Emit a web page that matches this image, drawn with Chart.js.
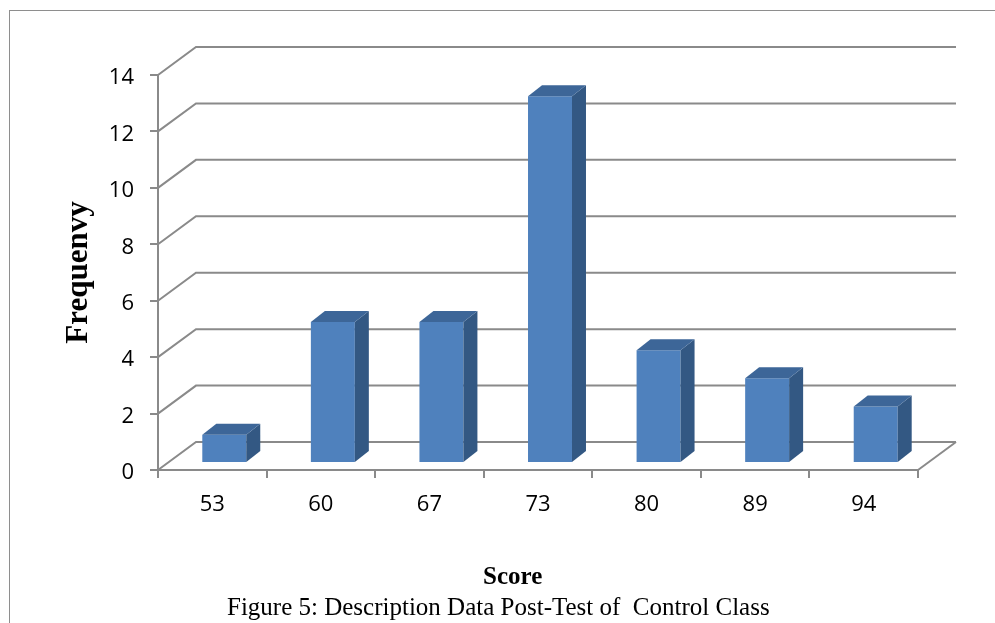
<!DOCTYPE html>
<html>
<head>
<meta charset="utf-8">
<title>Post-Test Score Frequency</title>
<script src="https://cdn.jsdelivr.net/npm/chart.js@4.4.1/dist/chart.umd.min.js"></script>
<style>
  html, body { margin: 0; padding: 0; background: #fff; overflow: hidden; }
  #wrap { position: relative; width: 995px; height: 623px; overflow: hidden; }
  #frame { position: absolute; left: 9px; top: 10px; width: 1200px; height: 900px;
           border: 1px solid #8e8e8e; box-sizing: border-box; }
  #chart { position: absolute; left: 0; top: 0; }
  .txt { position: absolute; font-family: "Liberation Serif", "Times New Roman", serif;
         font-size: 25px; line-height: 25px; color: #000; white-space: pre; }
</style>
</head>
<body>
<div id="wrap">
  <div id="frame"></div>
  <canvas id="chart" width="995" height="623"></canvas>
  <div class="txt" id="xTitle" style="left:483px; top:563px; font-weight:bold;"></div>
  <div class="txt" id="caption" style="left:227px; top:594px;"></div>
</div>
<script>
// Score categories and how many students got each one
const scores = ['53', '60', '67', '73', '80', '89', '94'];
const frequency = [1, 5, 5, 13, 4, 3, 2];

// Frequency axis range and step
const yMin = 0;
const yMax = 14;
const yStep = 2;

// Axis titles and caption
const yAxisTitle = 'Frequenvy';
const xAxisTitle = 'Score';
const captionText = 'Figure 5: Description Data Post-Test of  Control Class';

document.getElementById('xTitle').textContent = xAxisTitle;
document.getElementById('caption').textContent = captionText;

// Pseudo-3D look: back wall offset, bar placement inside the depth, bar thickness
const WALL = { dx: 38, dy: -28 };
const BAR_SHIFT = { dx: 12, dy: -7 };
const BAR_DEPTH = { dx: 14, dy: -11 };
const GRID = '#8a8a8a';
const FRONT = '#4f81bd';
const SIDE = '#335883';
const TOP = '#3d6698';

Chart.defaults.font.family = '"Open Sans"';

const box3d = {
  id: 'box3d',
  // back wall gridlines with their slanted left-wall segments, plus the floor edge
  beforeDatasetsDraw(chart) {
    const { ctx, chartArea: a, scales: { y } } = chart;
    ctx.save();
    ctx.strokeStyle = GRID;
    ctx.lineWidth = 2;
    y.ticks.forEach(t => {
      const py = y.getPixelForValue(t.value);
      ctx.beginPath();
      ctx.moveTo(a.left, py);
      ctx.lineTo(a.left + WALL.dx, py + WALL.dy);
      ctx.lineTo(a.right + WALL.dx, py + WALL.dy);
      ctx.stroke();
    });
    const p0 = y.getPixelForValue(yMin);
    ctx.beginPath();
    ctx.moveTo(a.right, p0);
    ctx.lineTo(a.right + WALL.dx, p0 + WALL.dy);
    ctx.stroke();
    ctx.restore();
  },
  // bars stand inside the floor depth, so shift their front face back
  beforeDatasetDraw(chart) {
    chart.ctx.save();
    chart.ctx.translate(BAR_SHIFT.dx, BAR_SHIFT.dy);
  },
  // side and top faces of each bar
  afterDatasetDraw(chart, args) {
    const ctx = chart.ctx;
    args.meta.data.forEach(bar => {
      const { x, y, base, width } = bar.getProps(['x', 'y', 'base', 'width'], true);
      const l = x - width / 2;
      const r = x + width / 2;
      ctx.fillStyle = SIDE;
      ctx.beginPath();
      ctx.moveTo(r, y);
      ctx.lineTo(r + BAR_DEPTH.dx, y + BAR_DEPTH.dy);
      ctx.lineTo(r + BAR_DEPTH.dx, base + BAR_DEPTH.dy);
      ctx.lineTo(r, base);
      ctx.closePath();
      ctx.fill();
      ctx.fillStyle = TOP;
      ctx.beginPath();
      ctx.moveTo(l, y);
      ctx.lineTo(l + BAR_DEPTH.dx, y + BAR_DEPTH.dy);
      ctx.lineTo(r + BAR_DEPTH.dx, y + BAR_DEPTH.dy);
      ctx.lineTo(r, y);
      ctx.closePath();
      ctx.fill();
    });
    ctx.restore();
  }
};

new Chart(document.getElementById('chart'), {
  type: 'bar',
  data: {
    labels: scores,
    datasets: [{
      data: frequency,
      backgroundColor: FRONT,
      borderWidth: 0,
      barPercentage: 0.405,
      categoryPercentage: 1,
      clip: false
    }]
  },
  options: {
    responsive: false,
    animation: false,
    layout: { padding: { left: 60, right: 77, top: 75, bottom: 0 } },
    plugins: { legend: { display: false }, tooltip: { enabled: false } },
    scales: {
      x: {
        grid: { drawOnChartArea: false, drawTicks: true, tickLength: 8, color: GRID, lineWidth: 2, offset: true },
        border: { display: true, color: GRID, width: 2 },
        ticks: { font: { size: 22 }, color: '#000', padding: 14 },
        afterFit(s) { s.height = 153; }
      },
      y: {
        min: yMin,
        max: yMax,
        ticks: { stepSize: yStep, font: { size: 22 }, color: '#000', padding: 16, labelOffset: 3 },
        grid: { drawOnChartArea: false, drawTicks: true, tickLength: 8, color: GRID, lineWidth: 2 },
        border: { display: true, color: GRID, width: 2 },
        title: {
          display: true,
          text: yAxisTitle,
          color: '#000',
          padding: 0,
          font: { family: 'Liberation Serif', size: 31, weight: 'bold' }
        },
        afterFit(s) { s.width = 98; }
      }
    }
  },
  plugins: [box3d]
});
</script>
</body>
</html>
